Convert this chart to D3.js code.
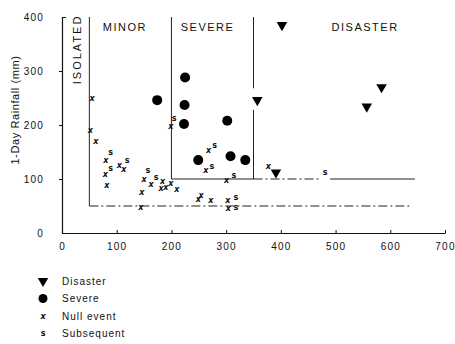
<!DOCTYPE html>
<html lang="en">
  <head>
    <meta charset="UTF-8" />
    <title>rainfall thresholds</title>
    <script src="https://d3js.org/d3.v7.min.js"></script>
    <style>
      body { margin: 0; background: #fff; }
      text { font-family: "Liberation Sans", Arial, sans-serif; fill: #111; }
    </style>
  </head>
  <body>
    <svg id="chart" width="455" height="344"></svg>
    <script>
      // values: [x value, 1-day rainfall mm]
      const disaster = [[402, 385], [357, 246], [391, 112], [557, 234], [584, 270]];
      const severe = [[174, 246], [225, 288], [224, 237], [223, 202], [302, 208],
        [249, 135], [308, 142], [335, 135]];
      const nullEvent = [[55, 250], [52, 190], [62, 170], [80, 135], [79, 109], [82, 88],
        [105, 126], [113, 118], [150, 100], [163, 90], [146, 76], [144, 48],
        [199, 197], [268, 152], [263, 115], [301, 97], [184, 95], [181, 83],
        [190, 85], [199, 91], [210, 80], [249, 63], [254, 70], [272, 61],
        [303, 60], [304, 46], [377, 124]];
      const subsequent = [[89, 149], [89, 119], [119, 134], [157, 115], [172, 102],
        [205, 212], [279, 162], [274, 124], [314, 106], [318, 66], [318, 48], [481, 112]];

      const xTicks = [0, 100, 200, 300, 400, 500, 600, 700];
      const yTicks = [0, 100, 200, 300, 400];

      // class boundaries [x1, y1, x2, y2, style]
      const boundaries = [
        [50, 50, 50, 400, "solid"],
        [50, 50, 636, 50, "dashdot"],
        [200, 100, 200, 400, "solid"],
        [200, 100, 350, 100, "solid"],
        [350, 100, 470, 100, "dashdot"],
        [490, 100, 645, 100, "solid"],
        [350, 100, 350, 228, "solid"],
        [350, 268, 350, 400, "solid"],
      ];
      const zones = [
        { name: "MINOR", x: 115 },
        { name: "SEVERE", x: 266 },
        { name: "DISASTER", x: 554 },
      ];
      const legendItems = ["Disaster", "Severe", "Null event", "Subsequent"];

      const svg = d3.select("#chart");
      const x = d3.scaleLinear().domain([0, 700]).range([62, 445]);
      const y = d3.scaleLinear().domain([0, 400]).range([233, 17]);

      // axes
      const xAxis = svg.append("g")
        .attr("transform", "translate(0," + y(0) + ")")
        .call(d3.axisBottom(x).tickValues(xTicks).tickSize(-3).tickPadding(10).tickSizeOuter(0));
      const yAxis = svg.append("g")
        .attr("transform", "translate(" + x(0) + ",0)")
        .call(d3.axisLeft(y).tickValues(yTicks).tickSize(3).tickPadding(15).tickSizeOuter(-4));
      [xAxis, yAxis].forEach((g) => {
        g.select(".domain").attr("stroke", "#111").attr("stroke-width", 1.2);
        g.selectAll(".tick line").attr("stroke", "#111");
        g.selectAll(".tick text")
          .style("font-family", "'Liberation Sans', Arial, sans-serif")
          .style("font-size", "10px")
          .style("letter-spacing", "1.2px")
          .attr("fill", "#111");
      });
      yAxis.selectAll(".tick").filter((d) => d === 0 || d === 400).select("line").remove();

      svg.append("text")
        .attr("transform", "translate(19,110) rotate(-90)")
        .attr("text-anchor", "middle")
        .style("font-size", "11px")
        .style("letter-spacing", "0.6px")
        .text("1-Day Rainfall (mm)");

      // boundaries
      svg.append("g").selectAll("line")
        .data(boundaries)
        .join("line")
        .attr("x1", (d) => x(d[0])).attr("y1", (d) => y(d[1]))
        .attr("x2", (d) => x(d[2])).attr("y2", (d) => y(d[3]))
        .attr("stroke", "#222")
        .attr("stroke-width", 1)
        .attr("stroke-dasharray", (d) => (d[4] === "dashdot" ? "9,3,2,3" : null));

      // zone labels
      svg.append("text")
        .attr("transform", "translate(" + (x(27) + 4) + "," + y(340) + ") rotate(-90)")
        .attr("text-anchor", "middle")
        .style("font-size", "11px")
        .style("letter-spacing", "2px")
        .text("ISOLATED");
      svg.append("g").selectAll("text")
        .data(zones)
        .join("text")
        .attr("x", (d) => x(d.x))
        .attr("y", 31)
        .attr("text-anchor", "middle")
        .style("font-size", "11px")
        .style("letter-spacing", "1.5px")
        .text((d) => d.name);

      // marks
      const tri = d3.symbol().type(d3.symbolTriangle).size(48);
      svg.append("g").selectAll("path")
        .data(disaster)
        .join("path")
        .attr("d", tri)
        .attr("transform", (d) => "translate(" + x(d[0]) + "," + y(d[1]) + ") rotate(180)")
        .attr("fill", "#000");

      svg.append("g").selectAll("circle")
        .data(severe)
        .join("circle")
        .attr("cx", (d) => x(d[0]))
        .attr("cy", (d) => y(d[1]))
        .attr("r", 5)
        .attr("fill", "#000");

      const letters = (data, ch) =>
        svg.append("g").selectAll("text")
          .data(data)
          .join("text")
          .attr("x", (d) => x(d[0]))
          .attr("y", (d) => y(d[1]))
          .attr("dy", "0.32em")
          .attr("text-anchor", "middle")
          .style("font-family", "'DejaVu Sans', sans-serif")
          .style("font-size", "8px")
          .style("font-weight", "bold")
          .text(ch);
      letters(nullEvent, "x").style("font-style", "italic");
      letters(subsequent, "s");

      // legend
      const legend = svg.append("g").selectAll("g")
        .data(legendItems)
        .join("g")
        .attr("transform", (d, i) => "translate(43," + (281 + i * 17.5) + ")");
      legend.each(function (d, i) {
        const g = d3.select(this);
        if (i === 0) g.append("path").attr("d", tri).attr("transform", "rotate(180)");
        if (i === 1) g.append("circle").attr("r", 4.5);
        if (i === 2 || i === 3) {
          g.append("text").attr("text-anchor", "middle").attr("dy", "0.32em")
            .style("font-family", "'DejaVu Sans', sans-serif")
            .style("font-size", "8px").style("font-weight", "bold")
            .style("font-style", i === 2 ? "italic" : "normal")
            .text(i === 2 ? "x" : "s");
        }
        g.append("text")
          .attr("x", 19)
          .attr("dy", "0.35em")
          .style("font-size", "10px")
          .style("letter-spacing", "1px")
          .text(d);
      });
    </script>
  </body>
</html>
